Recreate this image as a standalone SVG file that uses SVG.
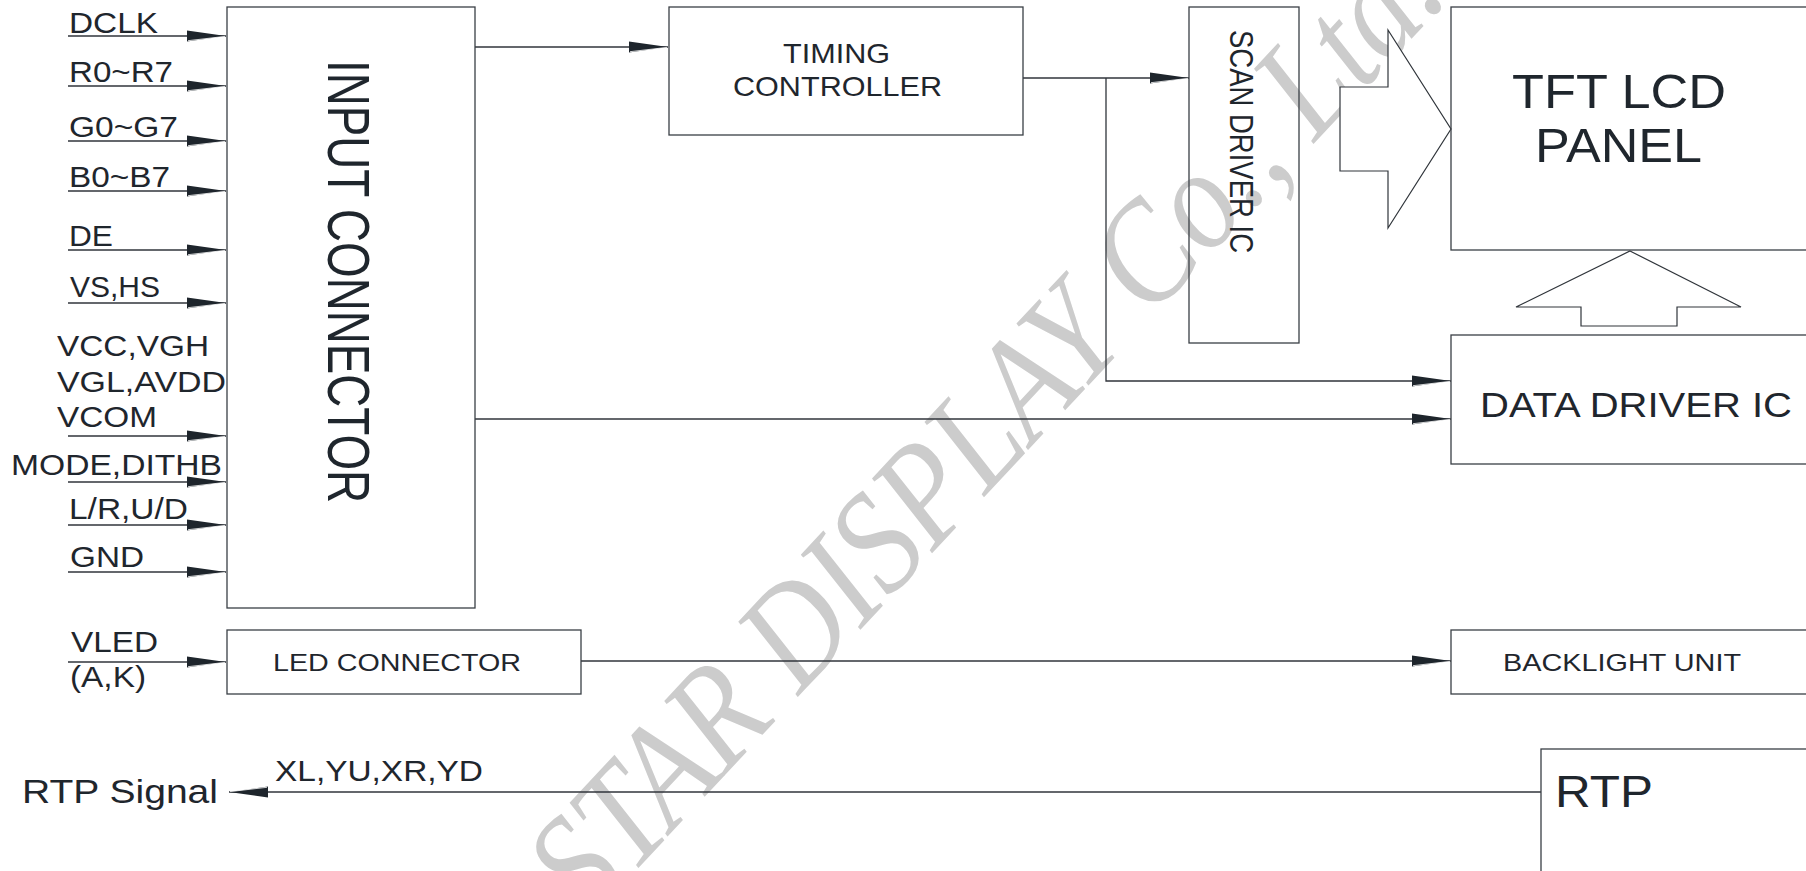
<svg xmlns="http://www.w3.org/2000/svg" width="1806" height="871" viewBox="0 0 1806 871">
<style>
.box{fill:none;stroke:#3a3f45;stroke-width:1.3}
.ln{fill:none;stroke:#30353b;stroke-width:1.3}
.t{font-family:"Liberation Sans",Arial,sans-serif;fill:#1f262d}
.hol{fill:#ffffff;stroke:#30353b;stroke-width:1.2}
.wm{font-family:"Liberation Serif","Times New Roman",serif;font-style:italic;fill:#cccccc}
</style>
<defs>
<marker id="ah" markerWidth="40" markerHeight="13" refX="39" refY="6.5" orient="auto" markerUnits="userSpaceOnUse">
<path d="M0,1 L39,6.5 L0,12 z" fill="#1e252c"/>
<path d="M1,11.2 L38,6.9" stroke="#ffffff" stroke-width="0.8" fill="none"/>
</marker>
</defs>
<rect width="1806" height="871" fill="#ffffff"/>
<text class="wm" transform="translate(588,922) rotate(-47) scale(1,1.15)" font-size="126">STAR DISPLAY Co., Ltd.</text>

<g id="connectors">
<path class="ln" d="M68,36 H226" marker-end="url(#ah)"/>
<path class="ln" d="M68,86 H226" marker-end="url(#ah)"/>
<path class="ln" d="M68,141 H226" marker-end="url(#ah)"/>
<path class="ln" d="M68,191 H226" marker-end="url(#ah)"/>
<path class="ln" d="M68,250 H226" marker-end="url(#ah)"/>
<path class="ln" d="M68,303 H226" marker-end="url(#ah)"/>
<path class="ln" d="M68,436 H226" marker-end="url(#ah)"/>
<path class="ln" d="M68,482 H226" marker-end="url(#ah)"/>
<path class="ln" d="M68,525 H226" marker-end="url(#ah)"/>
<path class="ln" d="M68,572 H226" marker-end="url(#ah)"/>
<path class="ln" d="M68,662 H226" marker-end="url(#ah)"/>
<path class="ln" d="M475,47 H668" marker-end="url(#ah)"/>
<path class="ln" d="M1023,78 H1189" marker-end="url(#ah)"/>
<path class="ln" d="M1106,78 V381 H1451" marker-end="url(#ah)"/>
<path class="ln" d="M475,419 H1451" marker-end="url(#ah)"/>
<path class="ln" d="M581,661 H1451" marker-end="url(#ah)"/>
<path class="ln" d="M1541,792 H229" marker-end="url(#ah)"/>
<polygon class="hol" points="1340,87 1388,87 1388,30 1451,129 1388,228 1388,171 1340,171"/>
<polygon class="hol" points="1630,251 1741,307 1677,307 1677,326 1581,326 1581,307 1516,307"/>
<g class="t" font-size="29">
<text x="69" y="33" textLength="89" lengthAdjust="spacingAndGlyphs">DCLK</text>
<text x="69" y="82" textLength="104" lengthAdjust="spacingAndGlyphs">R0~R7</text>
<text x="69" y="137" textLength="109" lengthAdjust="spacingAndGlyphs">G0~G7</text>
<text x="69" y="187" textLength="101" lengthAdjust="spacingAndGlyphs">B0~B7</text>
<text x="69" y="246" textLength="44" lengthAdjust="spacingAndGlyphs">DE</text>
<text x="70" y="297" textLength="90" lengthAdjust="spacingAndGlyphs">VS,HS</text>
<text x="57" y="356" textLength="152" lengthAdjust="spacingAndGlyphs">VCC,VGH</text>
<text x="57" y="392" textLength="169" lengthAdjust="spacingAndGlyphs">VGL,AVDD</text>
<text x="57" y="427" textLength="100" lengthAdjust="spacingAndGlyphs">VCOM</text>
<text x="11" y="475" textLength="211" lengthAdjust="spacingAndGlyphs">MODE,DITHB</text>
<text x="69" y="519" textLength="119" lengthAdjust="spacingAndGlyphs">L/R,U/D</text>
<text x="70" y="567" textLength="74" lengthAdjust="spacingAndGlyphs">GND</text>
<text x="71" y="652" textLength="87" lengthAdjust="spacingAndGlyphs">VLED</text>
<text x="70" y="687" textLength="76" lengthAdjust="spacingAndGlyphs">(A,K)</text>
<text x="275" y="781" font-size="29" textLength="208" lengthAdjust="spacingAndGlyphs">XL,YU,XR,YD</text>
<text x="22" y="803" font-size="34" textLength="196" lengthAdjust="spacingAndGlyphs">RTP Signal</text>
</g>
</g>

<g id="input-connector">
<rect class="box" x="227" y="7" width="248" height="601"/>
<text class="t" transform="translate(328,60) rotate(90)" font-size="59" textLength="443" lengthAdjust="spacingAndGlyphs">INPUT CONNECTOR</text>
</g>

<g id="timing-controller">
<rect class="box" x="669" y="7" width="354" height="128"/>
<text class="t" x="783" y="63" font-size="28" textLength="107" lengthAdjust="spacingAndGlyphs">TIMING</text>
<text class="t" x="733" y="96" font-size="28" textLength="209" lengthAdjust="spacingAndGlyphs">CONTROLLER</text>
</g>

<g id="scan-driver">
<rect class="box" x="1189" y="7" width="110" height="336"/>
<text class="t" transform="translate(1230,30) rotate(90)" font-size="34" textLength="223" lengthAdjust="spacingAndGlyphs">SCAN DRIVER IC</text>
</g>

<g id="tft-panel">
<rect class="box" x="1451" y="7" width="360" height="243"/>
<text class="t" x="1512" y="108" font-size="48" textLength="214" lengthAdjust="spacingAndGlyphs">TFT LCD</text>
<text class="t" x="1535" y="162" font-size="48" textLength="167" lengthAdjust="spacingAndGlyphs">PANEL</text>
</g>

<g id="data-driver">
<rect class="box" x="1451" y="335" width="360" height="129"/>
<text class="t" x="1480" y="417" font-size="35" textLength="312" lengthAdjust="spacingAndGlyphs">DATA DRIVER IC</text>
</g>

<g id="led-connector">
<rect class="box" x="227" y="630" width="354" height="64"/>
<text class="t" x="273" y="671" font-size="24" textLength="248" lengthAdjust="spacingAndGlyphs">LED CONNECTOR</text>
</g>

<g id="backlight-unit">
<rect class="box" x="1451" y="630" width="360" height="64"/>
<text class="t" x="1503" y="671" font-size="24" textLength="238" lengthAdjust="spacingAndGlyphs">BACKLIGHT UNIT</text>
</g>

<g id="rtp">
<rect class="box" x="1541" y="749" width="270" height="140"/>
<text class="t" x="1555" y="807" font-size="45" textLength="98" lengthAdjust="spacingAndGlyphs">RTP</text>
</g>
</svg>
